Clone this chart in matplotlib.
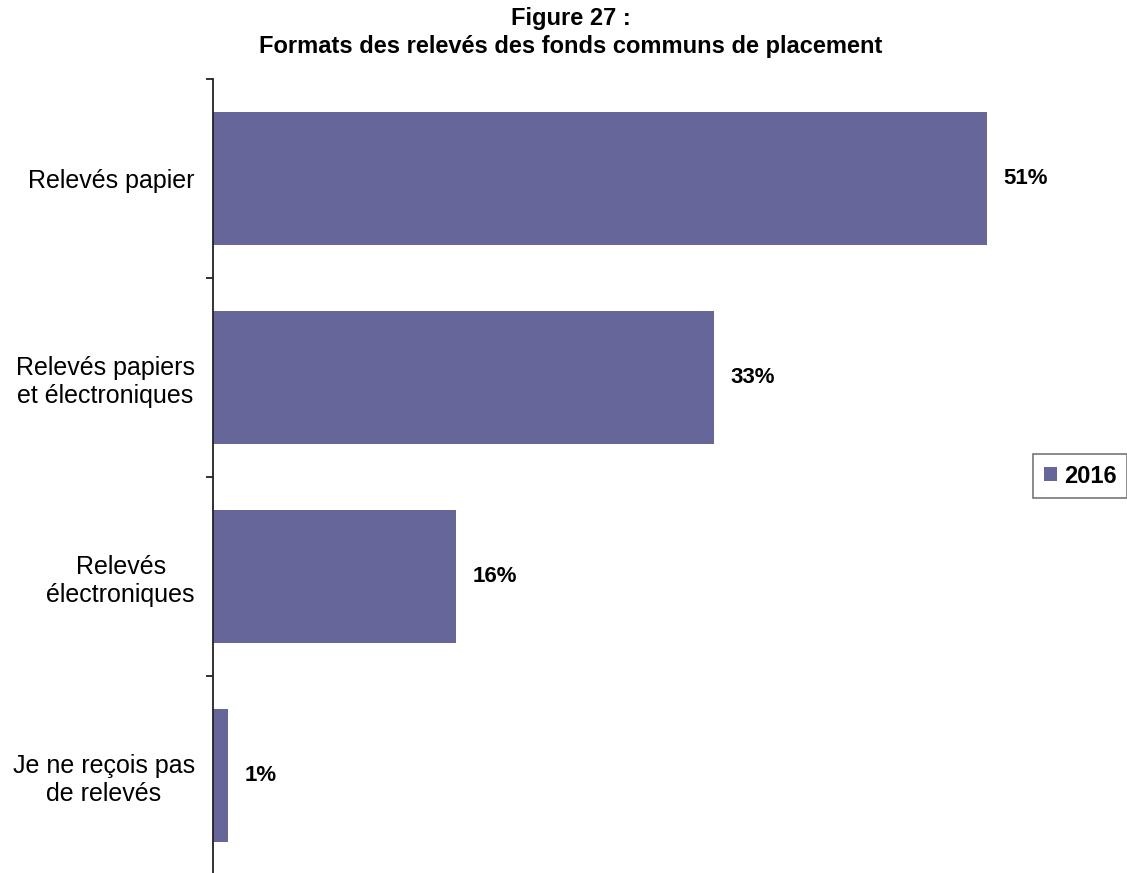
import matplotlib
matplotlib.use("Agg")
from matplotlib import pyplot as plt
from matplotlib.patches import Patch

plt.rcParams['font.family'] = ['Liberation Sans', 'DejaVu Sans']

# survey answers, top to bottom
categories = ["Relevés papier", "Relevés papiers\net électroniques",
              "Relevés\nélectroniques", "Je ne reçois pas\nde relevés"]
values = [51, 33, 16, 1]
series_name = "2016"

BAR_COLOR = "#67669a"

fig = plt.figure(figsize=(11.27, 8.73), dpi=100)
ax = fig.add_axes([213 / 1127, -2 / 873, 910 / 1127, 796 / 873])

pos = list(range(len(categories)))
ax.barh(pos, values, height=0.67, color=BAR_COLOR, edgecolor="none", zorder=2)
ax.set_ylim(len(categories) - 0.5, -0.5)
ax.set_xlim(0, 60)

for y, v in zip(pos, values):
    ax.annotate(f"{v}%", xy=(v, y), xytext=(12, 0), textcoords="offset points",
                ha="left", va="center", fontsize=16, fontweight="bold")

ax.set_yticks(pos, categories, fontsize=18)
for t in ax.get_yticklabels():
    t.set_multialignment("center")
ax.tick_params(axis="y", which="major", length=0, pad=13)
ax.set_yticks([p - 0.5 for p in pos] + [len(pos) - 0.5], minor=True)
ax.tick_params(axis="y", which="minor", length=5, width=1.3, color="#222222")

for side in ("top", "right", "bottom"):
    ax.spines[side].set_visible(False)
ax.spines["left"].set_linewidth(1.3)
ax.spines["left"].set_color("#222222")
ax.set_xticks([])

fig.text(571 / 1127, 1 - 19 / 873, "Figure 27 :", ha="center", va="center",
         fontsize=17, fontweight="bold")
fig.text(571 / 1127, 1 - 46 / 873, "Formats des relevés des fonds communs de placement",
         ha="center", va="center", fontsize=17, fontweight="bold")

leg = fig.legend(handles=[Patch(facecolor=BAR_COLOR, label=series_name)],
                 loc="upper left", bbox_to_anchor=(1033 / 1127, 1 - 454 / 873),
                 frameon=True, fancybox=False, handlelength=0.55, handleheight=0.55,
                 handletextpad=0.3, borderpad=0.45, borderaxespad=0,
                 prop={"size": 17, "weight": "bold"})
leg.get_frame().set_edgecolor("#555555")
leg.get_frame().set_linewidth(1.2)

fig.savefig("out.png", dpi=100)
